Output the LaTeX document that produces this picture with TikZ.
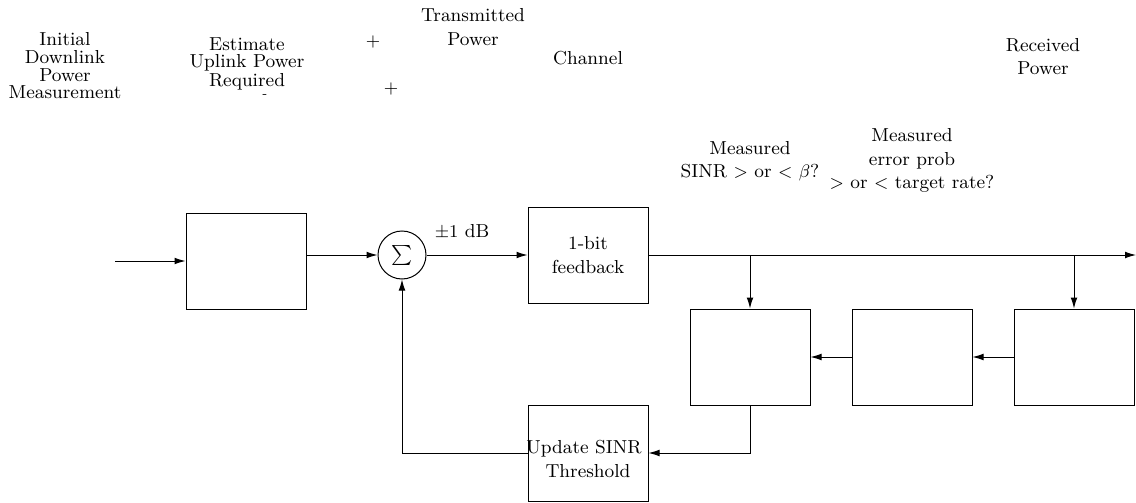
\documentclass[tikz,border=0pt]{standalone}
\usetikzlibrary{arrows.meta}
\begin{document}
\begin{tikzpicture}[x=0.5pt,y=-0.5pt,
  every node/.style={font=\fontsize{9.4}{11}\selectfont},
  blk/.style={draw,line width=0.5pt,minimum width=60pt,minimum height=48pt,inner sep=0pt},
  arr/.style={-{Latex[length=5.5pt,width=3.4pt]},line width=0.5pt},
  txt/.style={anchor=base,inner sep=0pt}]
\useasboundingbox (0,0) rectangle (1136,503);
% blocks
\node[blk] (A) at (246,261) {};
\node[draw,circle,line width=0.5pt,minimum size=24pt,inner sep=0pt] (sum) at (402,255) {$\sum$};
\node[blk] (B) at (588,255) {};
\node[blk] (C) at (750,357) {};
\node[blk] (D) at (912,357) {};
\node[blk] (E) at (1074,357) {};
\node[blk] (U) at (588,453) {};
\coordinate (inp) at (115,261);
\coordinate (outp) at (1136,255);
% connectors
\draw[arr] (inp) -- (A.west);
\draw[arr] (A.east |- sum) -- (sum.west);
\draw[arr] (sum.east) -- (B.west);
\draw[arr] (B.east) -- (outp);
\draw[arr] (C.north |- B.east) -- (C.north);
\draw[arr] (E.north |- B.east) -- (E.north);
\draw[arr] (E.west) -- (D.east);
\draw[arr] (D.west) -- (C.east);
\draw[arr] (C.south) |- (U.east);
\draw[arr] (U.west) -| (sum.south);
% labels
\node[txt] (l1a) at (65,46) {Initial};
\node[txt] (l1b) at (65,63.5) {Downlink};
\node[txt] (l1c) at (65,81) {Power};
\node[txt] (l1d) at (65,98.5) {Measurement};
\node[txt] (l2a) at (247,50) {Estimate};
\node[txt] (l2b) at (247,68) {Uplink Power};
\node[txt] (l2c) at (247,86) {Required};
\node[txt] (minus) at (265,97) {\fontsize{6}{6}\selectfont -};
\node[inner sep=0pt] (p1) at (373,42) {$+$};
\node[inner sep=0pt] (p2) at (391,89) {$+$};
\node[txt] (l3a) at (473,21) {Transmitted};
\node[txt] (l3b) at (473,46) {Power};
\node[txt] (l4) at (588,64) {Channel};
\node[txt] (l5a) at (1043,51) {Received};
\node[txt] (l5b) at (1043,74) {Power};
\node[txt] (l6a) at (750,154) {Measured};
\node[txt] (l6b) at (750,177) {SINR $>$ or $<$ $\beta$?};
\node[txt] (l7a) at (912,141) {Measured};
\node[txt] (l7b) at (912,165) {error prob};
\node[txt] (l7c) at (912,188) {$>$ or $<$ target rate?};
\node[txt] (l8) at (462,237) {$\pm1$ dB};
\node[txt] (l9a) at (588,249) {1-bit};
\node[txt] (l9b) at (588,273) {feedback};
\node[txt] (l10a) at (584,453) {Update SINR};
\node[txt] (l10b) at (588,477) {Threshold};
\end{tikzpicture}
\end{document}
